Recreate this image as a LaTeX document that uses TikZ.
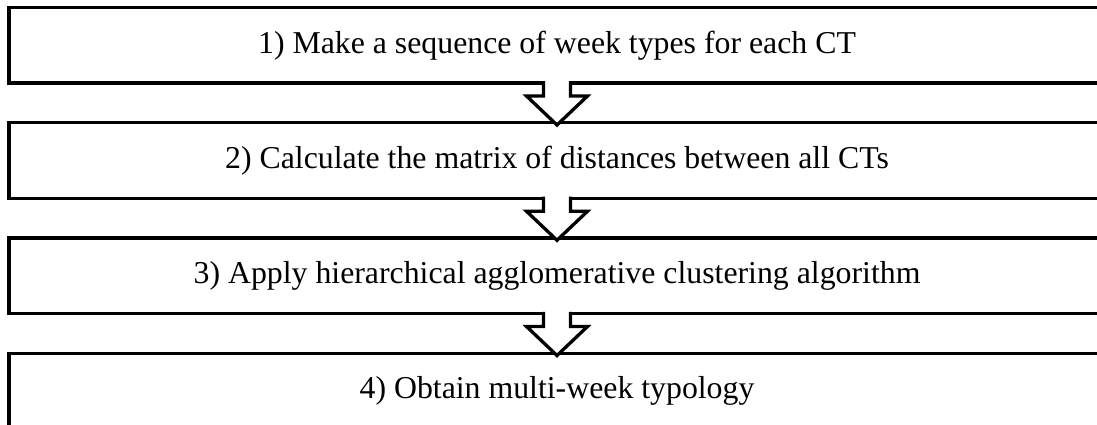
\documentclass[tikz,border=0pt]{standalone}
\usepackage{fontspec}
\setmainfont{Liberation Serif}
\tikzset{
  stepbox/.style={draw, line width=3.5pt, outer sep=0pt, minimum width=1096pt,
    minimum height=75.5pt, inner sep=0pt, font=\fontsize{31.8}{38}\selectfont},
  blockarrow/.style={draw, line width=3.3pt, preaction={fill=white}}
}
\begin{document}
\begin{tikzpicture}[x=1pt, y=1pt]
  \clip (0, 0) rectangle (1097, -425);
  \node [stepbox] (s1) at (557, -45.25) {1) Make a sequence of week types for each CT};
  \node [stepbox] (s2) at (557, -160.5) {2) Calculate the matrix of distances between all CTs};
  \node [stepbox] (s3) at (557, -275.75) {3) Apply hierarchical agglomerative clustering algorithm};
  \node [stepbox] (s4) at (557, -391) {4) Obtain multi-week typology};
  \foreach \a/\b in {s1/s2, s2/s3, s3/s4}
    \draw [blockarrow] ([xshift=-13.5pt, yshift=1.75pt]\a.south) -- ([xshift=-13.5pt, yshift=-13pt]\a.south)
      -- ([xshift=-30.5pt, yshift=-13pt]\a.south) -- ([yshift=-2.25pt]\b.north)
      -- ([xshift=30.5pt, yshift=-13pt]\a.south) -- ([xshift=13.5pt, yshift=-13pt]\a.south)
      -- ([xshift=13.5pt, yshift=1.75pt]\a.south);
\end{tikzpicture}
\end{document}
